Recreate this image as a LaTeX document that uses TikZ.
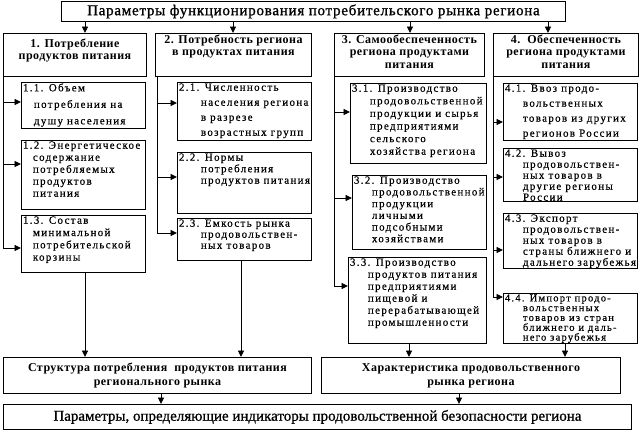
\documentclass[tikz,border=0pt]{standalone}
\usepackage{fontspec}
\setmainfont{Liberation Serif}
\newfontfamily\bodyfont{Liberation Serif}[LetterSpace=12,FakeBold=0.4]
\newfontfamily\headfont{Liberation Serif}[LetterSpace=4]
\newfontfamily\titlefont{Liberation Serif}[LetterSpace=5,FakeBold=1]
\newfontfamily\finfont{Liberation Serif}[FakeBold=0.8]
\usetikzlibrary{arrows.meta}
\def\headcell#1#2#3{\parbox[c][\dimexpr#2pt-2pt\relax][t]{\dimexpr#1pt-2pt\relax}{\centering #3}}
\def\subcell#1#2#3#4{\parbox[c][\dimexpr#2pt-2pt\relax][t]{\dimexpr#1pt-3pt\relax}{\raggedright\hangindent=#3pt\hangafter=1 #4}}
\tikzset{
	frame/.style={draw,line width=0.9pt,inner sep=1pt},
	titlebox/.style={frame,anchor=north west,font=\titlefont\fontsize{15}{16}\selectfont},
	headbox/.style={frame,anchor=north west,font=\headfont\bfseries\fontsize{12}{12.5}\selectfont},
	subbox/.style={frame,anchor=north west,inner xsep=1.5pt,font=\bodyfont\fontsize{11}{12}\selectfont},
	sumbox/.style={frame,anchor=north west,align=center,font=\headfont\bfseries\fontsize{12}{14}\selectfont},
	finbox/.style={frame,anchor=north west,font=\finfont\fontsize{15}{16}\selectfont},
	ln/.style={line width=0.9pt},
	arr/.style={->,line width=0.9pt},
	>={Triangle[length=6.5pt,width=6pt]},
	}
\begin{document}
\begin{tikzpicture}[x=1pt,y=-1pt]
\useasboundingbox (0,0) rectangle (640,431);
%TITLE
\node[titlebox,minimum width=504pt,minimum height=20pt] (t) at (61,1) {Параметры функционирования потребительского рынка региона};
%HEADERS
\node[headbox] (h1) at (3,33) {\headcell{143}{43}{\vspace*{4pt}1. Потребление\\продуктов питания}};
\node[headbox] (h2) at (155,33) {\headcell{156}{43}{2. Потребность региона\\в продуктах питания}};
\node[headbox] (h3) at (334,33) {\headcell{150}{43}{3. Самообеспеченность\\региона продуктами\\питания}};
\node[headbox] (h4) at (493,33) {\headcell{145}{43}{4.\ \ Обеспеченность\\региона продуктами\\питания}};
%COLUMN 1
\node[subbox,font=\bodyfont\fontsize{11}{16.5}\selectfont] (b11) at (21,82) {\subcell{124}{46}{11}{1.1. Объем\newline потребления на\newline душу населения}};
\node[subbox] (b12) at (21,140) {\subcell{124}{69}{10}{1.2. Энергетическое\newline содержание\newline потребляемых\newline продуктов\newline питания}};
\node[subbox,font=\bodyfont\fontsize{11}{12.3}\selectfont] (b13) at (21,215) {\subcell{124}{57}{10}{1.3. Состав\newline минимальной\newline потребительской\newline корзины}};
%COLUMN 2
\node[subbox,font=\bodyfont\fontsize{11}{15}\selectfont] (b21) at (177,82) {\subcell{134}{58}{22}{2.1. Численность\newline населения региона\newline в разрезе\newline возрастных групп}};
\node[subbox,font=\bodyfont\fontsize{11}{11.5}\selectfont] (b22) at (177,152) {\subcell{134}{61}{22}{2.2. Нормы\newline потребления\newline продуктов питания}};
\node[subbox,font=\bodyfont\fontsize{11}{11}\selectfont] (b23) at (177,218) {\subcell{134}{42}{22}{2.3. Емкость рынка\newline продовольствен-\newline ных товаров}};
%COLUMN 3
\node[subbox,font=\bodyfont\fontsize{11}{12.6}\selectfont] (b31) at (350,83) {\subcell{136}{80}{18}{3.1. Производство\newline продовольственной\newline \ продукции и сырья\newline предприятиями\newline сельского\newline хозяйства региона}};
\node[subbox,font=\bodyfont\fontsize{11}{11.7}\selectfont] (b32) at (352,175) {\subcell{134}{74}{18}{3.2. Производство\newline продовольственной\newline продукции\newline личными\newline подсобными\newline хозяйствами}};
\node[subbox] (b33) at (348,257) {\subcell{138}{86}{18}{3.3. Производство\newline продуктов питания\newline предприятиями\newline пищевой и\newline перерабатывающей\newline промышленности}};
%COLUMN 4
\node[subbox,font=\bodyfont\fontsize{11}{15}\selectfont] (b41) at (503,83) {\subcell{134}{57}{18}{4.1. Ввоз продо-\newline вольственных\newline товаров из других\newline регионов России}};
\node[subbox,font=\bodyfont\fontsize{11}{11}\selectfont] (b42) at (503,148) {\subcell{134}{53}{18}{4.2. Вывоз\newline продовольствен-\newline ных товаров в\newline другие регионы\newline России}};
\node[subbox,font=\bodyfont\fontsize{11}{11}\selectfont] (b43) at (503,213) {\subcell{134}{55}{18}{4.3. Экспорт\newline продовольствен-\newline ных товаров в\newline страны ближнего и\newline дальнего зарубежья}};
\node[subbox,font=\bodyfont\fontsize{10.5}{9.8}\selectfont] (b44) at (503,293) {\subcell{134}{50}{18}{4.4. Импорт продо-\newline вольственных\newline товаров из стран\newline ближнего и даль-\newline него зарубежья}};
%RESULTS
\node[sumbox,minimum width=308pt,minimum height=36pt] (s1) at (3,357) {Структура потребления\ \ продуктов питания\\регионального рынка};
\node[sumbox,minimum width=299pt,minimum height=36pt] (s2) at (321,357) {Характеристика продовольственного\\рынка региона};
\node[finbox,minimum width=628pt,minimum height=25pt] (f) at (3,404) {Параметры, определяющие индикаторы продовольственной безопасности региона};
%ARROWS FROM TITLE
\foreach \x/\h in {85/h1,233/h2,410/h3,548/h4}
	\draw[arr] (t.south -| \x,0) -- (\h.north -| \x,0);
%SIDE LINES
\coordinate (p11) at (3,102);
\coordinate (p12) at (3,164);
\coordinate (p13) at (3,248);
\coordinate (p21) at (157,103);
\coordinate (p22) at (157,177);
\coordinate (p23) at (157,233);
\coordinate (p31) at (334,112);
\coordinate (p32) at (334,198);
\coordinate (p33) at (334,286);
\coordinate (p41) at (493,122);
\coordinate (p42) at (493,177);
\coordinate (p43) at (493,250);
\coordinate (p44) at (493,297);
\draw[ln] (h1.south west) -- (p13);
\draw[ln] (h2.south -| p23) -- (p23);
\draw[ln] (h3.south west) -- (p33);
\draw[ln] (h4.south west) -- (p44);
\foreach \p in {11,12,13,21,22,23,31,32,33,41,42,43,44}
	\draw[arr] (p\p) -- (p\p -| b\p.west);
%ARROWS DOWN
\draw[arr] (b13.south -| 85,0) -- (s1.north -| 85,0);
\draw[arr] (b23.south -| 241,0) -- (s1.north -| 241,0);
\draw[arr] (b33.south -| 409,0) -- (s2.north -| 409,0);
\draw[arr] (b44.south -| 565,0) -- (s2.north -| 565,0);
\draw[arr] (s1.south -| 161,0) -- (f.north -| 161,0);
\draw[arr] (s2.south -| 459,0) -- (f.north -| 459,0);
\end{tikzpicture}
\end{document}
